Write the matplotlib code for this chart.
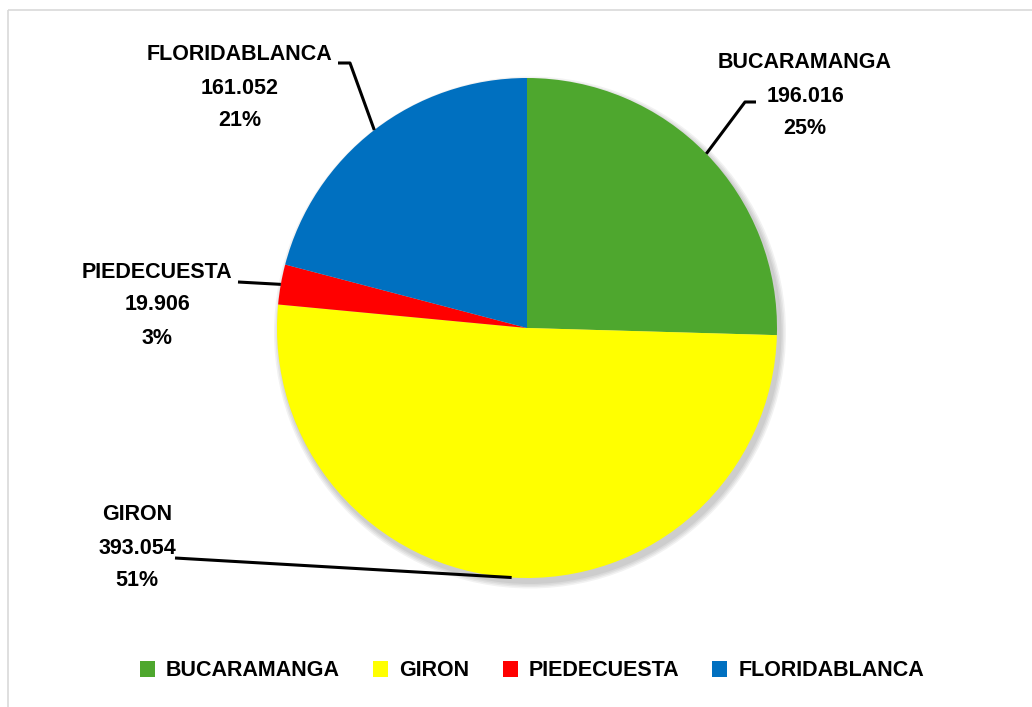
import numpy as np
import matplotlib.pyplot as plt
from matplotlib.patches import Rectangle, Circle

# data
municipios = ["BUCARAMANGA", "GIRON", "PIEDECUESTA", "FLORIDABLANCA"]
valores = [196016, 393054, 19906, 161052]
colores = ["#4EA72E", "#FFFF00", "#FF0000", "#0070C0"]

plt.rcParams['font.family'] = ['Liberation Sans', 'DejaVu Sans']
plt.rcParams['font.weight'] = 'bold'

W, H = 1032, 707
fig = plt.figure(figsize=(W / 100, H / 100), dpi=100)

# thin grey chart border
fig.patches.append(Rectangle((8 / W, 1 - 10 / H), 1.2, -1.2, transform=fig.transFigure,
                             fill=False, edgecolor="#D9D9D9", linewidth=1.2))

# pie: centre at (527, 328) px, radius 250 px
ax = fig.add_axes([277 / W, (H - 578) / H, 500 / W, 500 / H])
ax.axis('off')

# soft shadow
for k in range(4):
    ax.add_patch(Circle((0.012, -0.018), 1.0 + 0.006 * (4 - k), color="black",
                        alpha=0.05, linewidth=0, zorder=0, clip_on=False))

wedges, _ = ax.pie(valores, colors=colores, startangle=90, counterclock=False,
                   radius=1.0, wedgeprops=dict(linewidth=0))
for w in wedges:
    w.set_zorder(2)
    w.set_clip_on(False)
ax.set_xlim(-1, 1)
ax.set_ylim(-1, 1)
ax.set_aspect('equal')

total = sum(valores)

def px(x, y):
    # pixel (from top-left) -> data coordinates
    return (x - 527) / 250, (328 - y) / 250

# label centre (px) and leader-line elbow points (px)
label_pos = [(805, 96), (137, 548), (157, 305), (240, 88)]
elbows = [[(745, 102), (756, 102)],
          [(175, 558)],
          [(238, 282)],
          [(350, 63), (338, 63)]]

for w, nombre, v, lp, el in zip(wedges, municipios, valores, label_pos, elbows):
    ang = np.deg2rad((w.theta1 + w.theta2) / 2)
    x0, y0 = np.cos(ang), np.sin(ang)
    pts = [(x0, y0)] + [px(*p) for p in el]
    xs, ys = zip(*pts)
    ax.plot(xs, ys, color="black", linewidth=2.2, zorder=3, clip_on=False,
            solid_capstyle='butt')
    txt = f"{nombre}\n{v:,}".replace(",", ".") + f"\n{round(v / total * 100)}%"
    tx, ty = px(*lp)
    ax.text(tx, ty, txt, ha='center', va='center', multialignment='center',
            fontsize=15.5, fontweight='bold', linespacing=1.75, zorder=4)

leg = fig.legend(wedges, municipios, loc='center', bbox_to_anchor=(532 / W, 1 - 671 / H),
                 ncol=4, frameon=False, fontsize=15.5, handlelength=0.7, handleheight=0.7,
                 handletextpad=0.5, columnspacing=1.55)
for t in leg.get_texts():
    t.set_fontweight('bold')

fig.savefig("out.png", dpi=100)
